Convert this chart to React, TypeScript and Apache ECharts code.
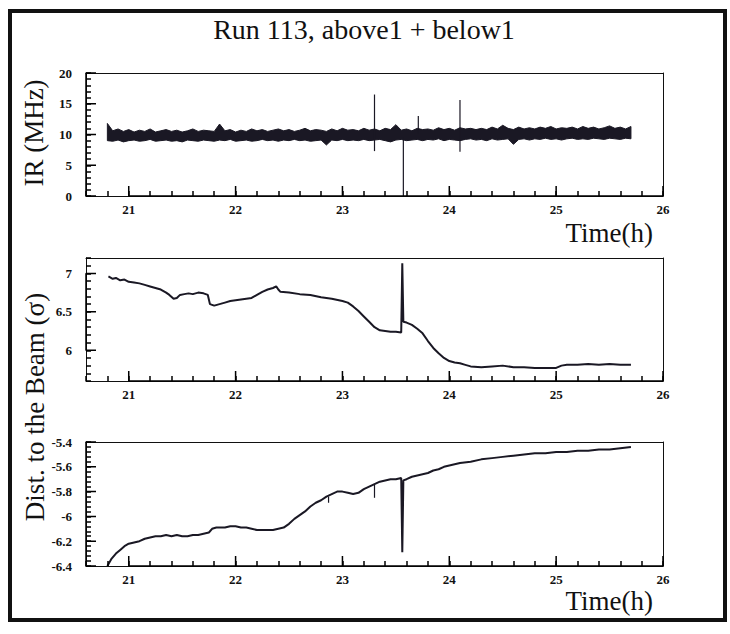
import React, { useEffect, useRef } from "react";
import * as echarts from "echarts";

const TITLE = "Run 113, above1 + below1";
const X_NAME = "Time(h)";
const Y1_NAME = "IR (MHz)";
const Y23_NAME = "Dist. to the Beam (\u03c3)";

const X_MIN = 20.6;
const X_MAX = 26;
const X_MAJOR = 1;
const X_MINOR = 0.2;

// IR rate band: sampled every 0.05 h from 20.80 h
const IR_T0 = 20.8;
const IR_DT = 0.05;
const irHigh = [
  11.8, 10.6, 10.9, 10.5, 10.8, 10.4, 10.7, 10.5, 10.9, 10.4,
  10.6, 10.8, 10.5, 10.7, 10.4, 10.6, 10.9, 10.5, 10.7, 10.6,
  10.5, 11.7, 10.6, 10.8, 10.4, 10.7, 10.5, 10.9, 10.6, 10.8,
  10.5, 10.7, 10.9, 10.6, 10.8, 10.5, 10.7, 11.0, 10.6, 10.8,
  10.7, 10.5, 10.9, 10.6, 11.0, 10.7, 10.8, 10.6, 11.0, 10.7,
  10.9, 10.6, 11.0, 10.8, 11.6, 10.7, 10.9, 10.6, 11.0, 10.8,
  10.9, 10.7, 11.1, 10.8, 11.0, 10.7, 11.1, 10.9, 11.0, 10.8,
  11.0, 10.8, 11.2, 10.9, 11.5, 11.0, 10.8, 11.2, 10.9, 11.1,
  10.9, 11.2, 11.0, 11.3, 10.9, 11.1, 11.0, 11.2, 10.9, 11.3,
  11.0, 11.2, 10.9, 11.1, 11.4, 11.0, 11.2, 10.9, 11.3,
];
const irLow = [
  9.0, 8.9, 9.1, 8.8, 9.0, 9.1, 8.9, 9.0, 9.2, 8.9,
  9.0, 9.1, 8.9, 9.0, 8.8, 9.1, 9.0, 8.9, 9.1, 9.0,
  8.9, 9.1, 9.0, 9.2, 8.9, 9.0, 9.1, 8.9, 9.0, 9.2,
  9.0, 9.1, 8.9, 9.1, 9.0, 9.2, 9.0, 9.1, 8.9, 9.0,
  9.1, 8.3, 9.1, 9.0, 9.2, 9.0, 9.1, 9.0, 9.2, 9.0,
  9.1, 9.2, 9.0, 8.8, 9.1, 9.2, 9.0, 9.1, 9.2, 9.0,
  9.2, 9.1, 9.3, 9.0, 9.2, 9.1, 9.0, 9.2, 9.3, 9.1,
  9.2, 9.0, 9.3, 9.1, 9.2, 9.3, 8.4, 9.2, 9.3, 9.1,
  9.3, 9.2, 9.4, 9.2, 9.3, 9.1, 9.3, 9.4, 9.2, 9.3,
  9.2, 9.4, 9.3, 9.2, 9.4, 9.3, 9.2, 9.4, 9.3,
];
const irTimes = irHigh.map((_, i) => +(IR_T0 + i * IR_DT).toFixed(2));
const irSpikeTimes = [23.3, 23.57, 24.1, 23.71];
const irSpikeLow = [7.3, 0, 7.2, 10.2];
const irSpikeHigh = [16.5, 9.6, 15.6, 13.0];

// Distance to the beam (sigma)
const distTimes = [
  20.81, 20.85, 20.88, 20.92, 20.96, 21.0, 21.05, 21.1, 21.15, 21.2,
  21.25, 21.3, 21.35, 21.38, 21.42, 21.45, 21.48, 21.52, 21.56, 21.6,
  21.65, 21.7, 21.74, 21.76, 21.8, 21.85, 21.9, 21.95, 22.0, 22.05,
  22.1, 22.15, 22.2, 22.25, 22.3, 22.35, 22.38, 22.4, 22.42, 22.5,
  22.6, 22.7, 22.8, 22.9, 23.0, 23.05, 23.1, 23.15, 23.2, 23.25,
  23.3, 23.35, 23.4, 23.45, 23.5, 23.55, 23.56, 23.57, 23.6, 23.65,
  23.7, 23.75, 23.8, 23.85, 23.9, 23.95, 24.0, 24.05, 24.1, 24.15,
  24.2, 24.3, 24.4, 24.5, 24.6, 24.7, 24.8, 24.9, 25.0, 25.05,
  25.1, 25.2, 25.3, 25.4, 25.5, 25.6, 25.7,
];
const distValues = [
  6.96, 6.93, 6.94, 6.91, 6.92, 6.89, 6.88, 6.87, 6.85, 6.83,
  6.81, 6.79, 6.75, 6.72, 6.67, 6.68, 6.72, 6.73, 6.74, 6.73,
  6.75, 6.74, 6.72, 6.6, 6.58, 6.6, 6.62, 6.64, 6.65, 6.66,
  6.67, 6.68, 6.72, 6.76, 6.79, 6.81, 6.83, 6.79, 6.76, 6.75,
  6.73, 6.72, 6.69, 6.67, 6.64, 6.62, 6.57, 6.51, 6.44, 6.37,
  6.3, 6.26, 6.25, 6.24, 6.24, 6.23, 7.13, 6.37, 6.36, 6.33,
  6.28, 6.22, 6.12, 6.03, 5.96, 5.9, 5.86, 5.84, 5.83, 5.81,
  5.79, 5.78, 5.79, 5.8, 5.78, 5.78, 5.77, 5.77, 5.77, 5.8,
  5.81, 5.81, 5.82, 5.81, 5.82, 5.81, 5.81,
];

// Signed distance (sigma)
const posTimes = [
  20.8, 20.84, 20.88, 20.92, 20.96, 21.0, 21.05, 21.1, 21.15, 21.2,
  21.25, 21.3, 21.35, 21.4, 21.45, 21.5, 21.55, 21.6, 21.65, 21.7,
  21.75, 21.78, 21.82, 21.9, 21.95, 22.0, 22.05, 22.1, 22.15, 22.2,
  22.25, 22.3, 22.35, 22.4, 22.45, 22.5, 22.55, 22.6, 22.65, 22.7,
  22.75, 22.8, 22.85, 22.9, 22.95, 23.0, 23.05, 23.1, 23.15, 23.2,
  23.25, 23.3, 23.35, 23.4, 23.45, 23.5, 23.55, 23.56, 23.57, 23.6,
  23.65, 23.7, 23.75, 23.8, 23.85, 23.9, 23.95, 24.0, 24.05, 24.1,
  24.2, 24.3, 24.4, 24.5, 24.6, 24.7, 24.8, 24.9, 25.0, 25.1,
  25.2, 25.3, 25.4, 25.5, 25.6, 25.7,
];
const posValues = [
  -6.4, -6.34, -6.3, -6.27, -6.24, -6.22, -6.21, -6.2, -6.18, -6.17,
  -6.16, -6.16, -6.15, -6.16, -6.15, -6.16, -6.16, -6.15, -6.15, -6.14,
  -6.13, -6.1, -6.09, -6.09, -6.08, -6.08, -6.09, -6.09, -6.1, -6.11,
  -6.11, -6.11, -6.11, -6.1, -6.09, -6.06, -6.02, -5.99, -5.96, -5.92,
  -5.89, -5.87, -5.84, -5.82, -5.8, -5.8, -5.81, -5.82, -5.81, -5.78,
  -5.76, -5.74, -5.72, -5.71, -5.7, -5.7, -5.69, -6.29, -5.71, -5.7,
  -5.68, -5.67, -5.66, -5.65, -5.63, -5.62, -5.6, -5.59, -5.58, -5.57,
  -5.56, -5.54, -5.53, -5.52, -5.51, -5.5, -5.49, -5.49, -5.48, -5.48,
  -5.47, -5.47, -5.46, -5.46, -5.45, -5.44,
];
const posSpikeTimes = [22.87, 23.3];
const posSpikeLow = [-5.89, -5.85];
const posSpikeHigh = [-5.84, -5.74];

const INK = "#1a1824";
const TICK_INK = "#000000";
const SERIF = "'Liberation Serif', 'DejaVu Serif', serif";
const MAJOR_LEN = 10;
const MINOR_LEN = 5;
const GRID_LEFT = 86;
const GRID_WIDTH = 577;

const panels = [
  { top: 73, height: 123, yMin: 0, yMax: 20, yMajor: 5, yMinor: 1 },
  { top: 258, height: 123, yMin: 5.6, yMax: 7.2, yMajor: 0.5, yMinor: 0.1 },
  { top: 442, height: 124, yMin: -6.4, yMax: -5.4, yMajor: 0.2, yMinor: 0.04 },
];

const isMult = (v: number, step: number) =>
  Math.abs(v / step - Math.round(v / step)) < 1e-6;
const fmt = (v: number) => String(parseFloat(v.toFixed(2)));

// tick positions on [min, max] at multiples of step
function steps(min: number, max: number, step: number): number[] {
  const out: number[] = [];
  const k0 = Math.ceil(min / step - 1e-6);
  const k1 = Math.floor(max / step + 1e-6);
  for (let k = k0; k <= k1; k++) out.push(+(k * step).toFixed(4));
  return out;
}

const tickFont = {
  fontFamily: SERIF,
  fontWeight: "bold" as const,
  fontSize: 13,
  color: "#111",
};

function buildOption() {
  const grid: any[] = [];
  const xAxis: any[] = [];
  const yAxis: any[] = [];
  const series: any[] = [];
  const tickSeries: any[] = [];
  const frameLine = { show: true, onZero: false, lineStyle: { color: "#111", width: 1 } };
  const minorTick = {
    show: true,
    inside: true,
    length: MINOR_LEN,
    lineStyle: { color: TICK_INK, width: 1.5 },
  };

  panels.forEach((p, g) => {
    grid.push({ left: GRID_LEFT, top: p.top, width: GRID_WIDTH, height: p.height, show: false });
    // axis 2g: bottom/left with labels and minor ticks; 2g+1: top/right frame line only
    xAxis.push(
      {
        type: "value",
        gridIndex: g,
        position: "bottom",
        min: X_MIN,
        max: X_MAX,
        interval: X_MINOR,
        axisLine: frameLine,
        axisTick: minorTick,
        axisLabel: {
          ...tickFont,
          margin: 7,
          formatter: (v: number) => (isMult(v, X_MAJOR) ? fmt(v) : ""),
        },
        splitLine: { show: false },
        z: 10,
      },
      {
        type: "value",
        gridIndex: g,
        position: "top",
        min: X_MIN,
        max: X_MAX,
        axisLine: frameLine,
        axisTick: { show: false },
        axisLabel: { show: false },
        splitLine: { show: false },
      }
    );
    yAxis.push(
      {
        type: "value",
        gridIndex: g,
        position: "left",
        min: p.yMin,
        max: p.yMax,
        interval: p.yMinor,
        axisLine: frameLine,
        axisTick: minorTick,
        axisLabel: {
          ...tickFont,
          margin: 14,
          formatter: (v: number) => (isMult(v, p.yMajor) ? fmt(v) : ""),
        },
        splitLine: { show: false },
        z: 10,
      },
      {
        type: "value",
        gridIndex: g,
        position: "right",
        min: p.yMin,
        max: p.yMax,
        axisLine: frameLine,
        axisTick: { show: false },
        axisLabel: { show: false },
        splitLine: { show: false },
      }
    );

    // long major ticks: a line that goes out and back along each major tick
    const dyPerPx = (p.yMax - p.yMin) / p.height;
    const dxPerPx = (X_MAX - X_MIN) / GRID_WIDTH;
    const xPath: number[][] = [];
    steps(X_MIN, X_MAX, X_MAJOR).forEach((v) => {
      xPath.push([v, p.yMin], [v, p.yMin + MAJOR_LEN * dyPerPx], [v, p.yMin]);
    });
    const yPath: number[][] = [];
    steps(p.yMin, p.yMax, p.yMajor).forEach((v) => {
      yPath.push([X_MIN, v], [X_MIN + MAJOR_LEN * dxPerPx, v], [X_MIN, v]);
    });
    [xPath, yPath].forEach((path) =>
      tickSeries.push({
        type: "line",
        xAxisIndex: 2 * g,
        yAxisIndex: 2 * g,
        silent: true,
        showSymbol: false,
        symbol: "none",
        clip: false,
        z: 20,
        data: path,
        lineStyle: { color: TICK_INK, width: 1.5 },
      })
    );
  });

  const spikeRender = (params: any, api: any) => {
    const a = api.coord([api.value(0), api.value(1)]);
    const b = api.coord([api.value(0), api.value(2)]);
    return {
      type: "line",
      shape: { x1: a[0], y1: a[1], x2: b[0], y2: b[1] },
      style: { stroke: INK, lineWidth: 1.2 },
    };
  };

  series.push(
    {
      type: "custom",
      xAxisIndex: 0,
      yAxisIndex: 0,
      silent: true,
      data: irTimes.map((t, i) => [t, irLow[i], irHigh[i]]),
      encode: { x: 0, y: [1, 2] },
      renderItem: (params: any, api: any) => {
        if (params.dataIndex !== 0) return null;
        const top = irTimes.map((t, i) => api.coord([t, irHigh[i]]));
        const bot = irTimes.map((t, i) => api.coord([t, irLow[i]])).reverse();
        return {
          type: "polygon",
          shape: { points: top.concat(bot) },
          style: { fill: INK, stroke: INK, lineWidth: 1 },
        };
      },
    },
    {
      type: "custom",
      xAxisIndex: 0,
      yAxisIndex: 0,
      silent: true,
      data: irSpikeTimes.map((t, i) => [t, irSpikeLow[i], irSpikeHigh[i]]),
      encode: { x: 0, y: [1, 2] },
      renderItem: spikeRender,
    },
    {
      type: "line",
      xAxisIndex: 2,
      yAxisIndex: 2,
      silent: true,
      showSymbol: false,
      symbol: "none",
      data: distTimes.map((t, i) => [t, distValues[i]]),
      lineStyle: { color: INK, width: 2 },
    },
    {
      type: "line",
      xAxisIndex: 4,
      yAxisIndex: 4,
      silent: true,
      showSymbol: false,
      symbol: "none",
      data: posTimes.map((t, i) => [t, posValues[i]]),
      lineStyle: { color: INK, width: 2 },
    },
    {
      type: "custom",
      xAxisIndex: 4,
      yAxisIndex: 4,
      silent: true,
      data: posSpikeTimes.map((t, i) => [t, posSpikeLow[i], posSpikeHigh[i]]),
      encode: { x: 0, y: [1, 2] },
      renderItem: spikeRender,
    },
    ...tickSeries
  );

  const textStyle = (text: string, size: number, align: string) => ({
    text,
    fontFamily: SERIF,
    fontSize: size,
    fill: "#111",
    align,
    verticalAlign: "middle",
  });

  const graphic = [
    {
      type: "rect",
      shape: { x: 10, y: 11, width: 715, height: 609 },
      style: { fill: "none", stroke: "#111", lineWidth: 4 },
    },
    { type: "text", x: 364, y: 29, style: textStyle(TITLE, 28, "center") },
    { type: "text", x: 653, y: 233, style: textStyle(X_NAME, 27, "right") },
    { type: "text", x: 653, y: 601, style: textStyle(X_NAME, 27, "right") },
    { type: "text", x: 34, y: 133, rotation: Math.PI / 2, style: textStyle(Y1_NAME, 27, "center") },
    { type: "text", x: 35, y: 407, rotation: Math.PI / 2, style: textStyle(Y23_NAME, 27, "center") },
  ];

  return { animation: false, backgroundColor: "#ffffff", grid, xAxis, yAxis, series, graphic };
}

export default function App() {
  const ref = useRef<HTMLDivElement>(null);
  useEffect(() => {
    if (!ref.current) return;
    const chart = echarts.init(ref.current, null, { renderer: "svg" });
    chart.setOption(buildOption() as any);
    return () => chart.dispose();
  }, []);
  return (
    <div
      ref={ref}
      style={{ position: "fixed", left: 0, top: 0, width: 730, height: 634, background: "#fff" }}
    />
  );
}
